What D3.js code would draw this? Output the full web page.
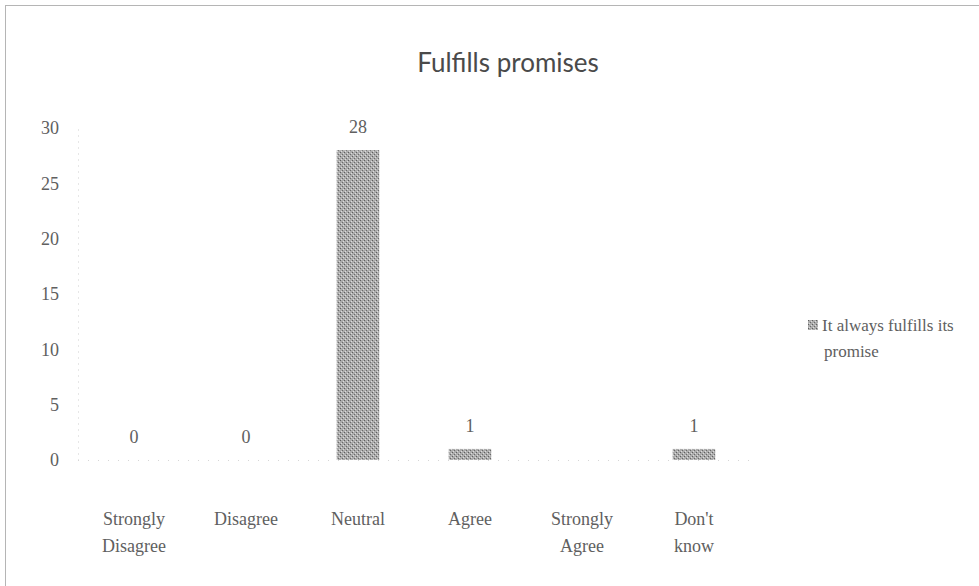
<!DOCTYPE html>
<html>
<head>
<meta charset="utf-8">
<script src="https://cdn.jsdelivr.net/npm/d3@7"></script>
<style>
  html, body { margin: 0; padding: 0; background: #fff; }
  svg { display: block; }
</style>
</head>
<body>
<svg id="chart" width="979" height="586"></svg>
<script>
// Survey responses for "Fulfills promises"
const categories = ["Strongly Disagree", "Disagree", "Neutral", "Agree", "Strongly Agree", "Don't know"];
const categoryLines = [["Strongly", "Disagree"], ["Disagree"], ["Neutral"], ["Agree"], ["Strongly", "Agree"], ["Don't", "know"]];
const values = [0, 0, 28, 1, null, 1];
const yTicks = [0, 5, 10, 15, 20, 25, 30];
const seriesName = ["It always fulfills its", "promise"];
const chartTitle = "Fulfills promises";

const svg = d3.select("#chart");
const textColor = "#606060";
const serif = "'Liberation Serif', 'DejaVu Serif', serif";

// Stippled fill for the bars
const defs = svg.append("defs");
const pat = defs.append("pattern")
  .attr("id", "stipple").attr("patternUnits", "userSpaceOnUse")
  .attr("width", 4).attr("height", 4);
pat.append("rect").attr("width", 4).attr("height", 4).attr("fill", "#ababab");
pat.append("rect").attr("x", 0).attr("y", 0).attr("width", 1).attr("height", 1).attr("fill", "#5e5e5e");
pat.append("rect").attr("x", 2).attr("y", 2).attr("width", 1).attr("height", 1).attr("fill", "#6a6a6a");
pat.append("rect").attr("x", 3).attr("y", 1).attr("width", 1).attr("height", 1).attr("fill", "#dcdcdc");
pat.append("rect").attr("x", 1).attr("y", 3).attr("width", 1).attr("height", 1).attr("fill", "#dcdcdc");

// Chart frame (dotted outline)
svg.append("rect")
  .attr("x", 5.5).attr("y", 5.5).attr("width", 990).attr("height", 600)
  .attr("fill", "none").attr("stroke", "#6a6a6a").attr("stroke-width", 1)
  .attr("stroke-dasharray", "1,1");

// Title
svg.append("text")
  .attr("x", 508).attr("y", 72)
  .attr("text-anchor", "middle")
  .attr("font-family", "Lato, 'Open Sans', sans-serif")
  .attr("font-size", 26)
  .attr("fill", "#4a4a4a")
  .text(chartTitle);

// Scales
const x = d3.scaleBand().domain(categories).range([78, 750]).paddingInner(0.62).paddingOuter(0.31);
const y = d3.scaleLinear().domain([0, 30]).range([460, 128]);

// Y axis
const yAxis = svg.append("g").attr("transform", "translate(78,0)")
  .call(d3.axisLeft(y).tickValues(yTicks).tickSize(0).tickPadding(19));
yAxis.select(".domain").attr("stroke", "#cfcfcf").attr("stroke-dasharray", "1,5");
yAxis.selectAll("text")
  .attr("font-family", serif)
  .attr("font-size", 18)
  .attr("fill", textColor);

// Baseline
svg.append("line")
  .attr("x1", 78).attr("x2", 750).attr("y1", y(0) + 0.5).attr("y2", y(0) + 0.5)
  .attr("stroke", "#d6d6d6").attr("stroke-dasharray", "1,9");

// Bars
const barData = categories.map((c, i) => ({ c, v: values[i] })).filter(d => d.v !== null);
svg.append("g").selectAll("rect")
  .data(barData)
  .join("rect")
  .attr("x", d => x(d.c))
  .attr("y", d => y(d.v))
  .attr("width", x.bandwidth())
  .attr("height", d => y(0) - y(d.v))
  .attr("fill", "url(#stipple)");

// Value labels
svg.append("g").selectAll("text")
  .data(barData)
  .join("text")
  .attr("x", d => x(d.c) + x.bandwidth() / 2)
  .attr("y", d => y(d.v) - 17)
  .attr("text-anchor", "middle")
  .attr("font-family", serif)
  .attr("font-size", 18)
  .attr("fill", textColor)
  .text(d => d.v);

// Category labels
const xl = svg.append("g");
categories.forEach((c, i) => {
  const cx = x(c) + x.bandwidth() / 2;
  const t = xl.append("text")
    .attr("x", cx)
    .attr("y", 525)
    .attr("text-anchor", "middle")
    .attr("font-family", serif)
    .attr("font-size", 18)
    .attr("fill", textColor);
  categoryLines[i].forEach((line, j) => {
    t.append("tspan").attr("x", cx).attr("dy", j === 0 ? 0 : 27).text(line);
  });
});

// Legend
const lg = svg.append("g");
lg.append("rect").attr("x", 808).attr("y", 320).attr("width", 10).attr("height", 10).attr("fill", "url(#stipple)");
lg.append("text")
  .attr("x", 822).attr("y", 331)
  .attr("font-family", serif)
  .attr("font-size", 17)
  .attr("fill", textColor)
  .selectAll("tspan").data(seriesName).join("tspan")
  .attr("x", (d, i) => i === 0 ? 822 : 824)
  .attr("dy", (d, i) => i === 0 ? 0 : 26)
  .text(d => d);
</script>
</body>
</html>
